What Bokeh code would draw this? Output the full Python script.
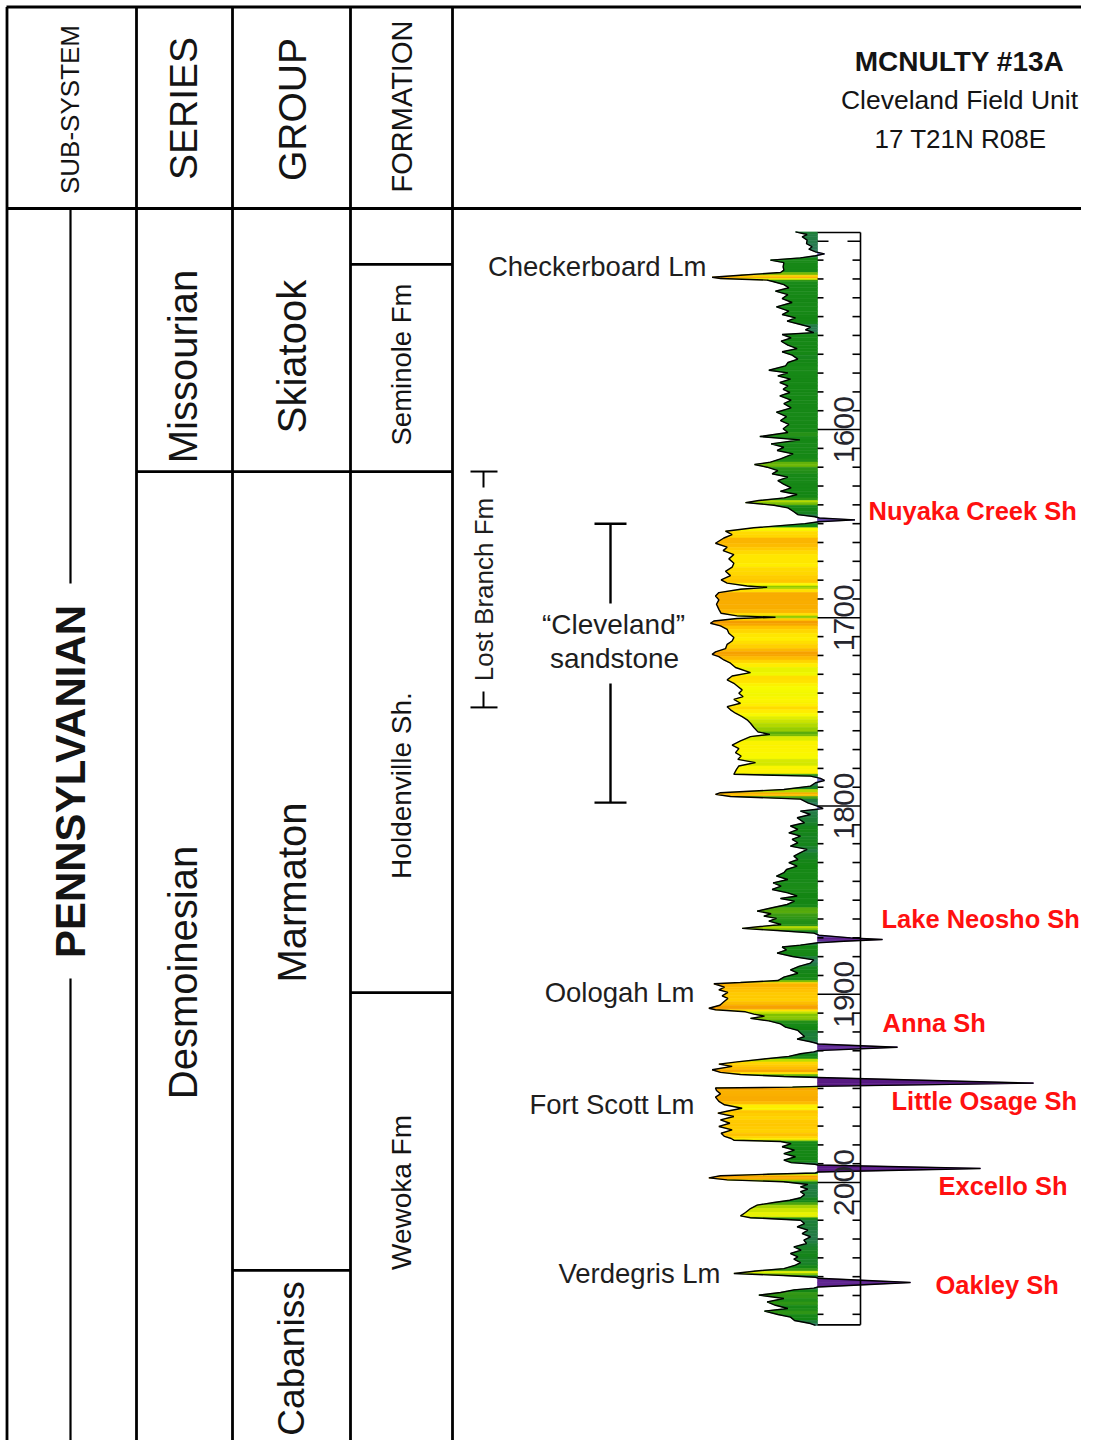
import math
from bokeh.plotting import figure
from bokeh.models import Range1d
from bokeh.embed import file_html
from bokeh.resources import INLINE
from bokeh.core.properties import value

# ---------------- DATA ----------------
well_title = ["MCNULTY #13A", "Cleveland Field Unit", "17 T21N R08E"]
header_labels = ["SUB-SYSTEM", "SERIES", "GROUP", "FORMATION"]
subsystem_name = "PENNSYLVANIAN"

series_names = ["Missourian", "Desmoinesian"]
series_tops = [1482.6, 1622.3]
group_names = ["Skiatook", "Marmaton", "Cabaniss"]
group_tops = [1482.6, 1622.3, 2046.7]
formation_names = ["", "Seminole Fm", "Holdenville Sh.", "Wewoka Fm"]
formation_tops = [1482.6, 1512.3, 1622.3, 1899.1]

depth_labels = [1600, 1700, 1800, 1900, 2000]
depth_tick_step = 10
scale_top, scale_base = 1495.3, 2075.6

lm_names = ["Checkerboard Lm", "Oologah Lm", "Fort Scott Lm", "Verdegris Lm"]
sh_names = ["Nuyaka Creek Sh", "Lake Neosho Sh", "Anna Sh", "Little Osage Sh", "Excello Sh", "Oakley Sh"]
cleveland_top, cleveland_base = 1650.0, 1798.2
lost_branch_top, lost_branch_base = 1622.3, 1747.6

# gamma-ray style log (depth ft, value)
gr_depth = [
    1495.0, 1496.4, 1497.6, 1499.4, 1501.2, 1502.9, 1504.2, 1505.6, 1506.7, 1507.7,
    1508.8, 1510.0, 1511.3, 1513.6, 1515.3, 1516.6, 1518.0, 1519.1, 1519.8, 1520.6,
    1521.5, 1523.0, 1524.7, 1526.5, 1528.3, 1530.4, 1532.5, 1534.8, 1537.1, 1538.9,
    1540.7, 1542.4, 1544.2, 1545.6, 1547.0, 1548.5, 1549.5, 1551.3, 1553.1, 1555.2,
    1557.0, 1558.7, 1560.5, 1562.6, 1564.4, 1566.2, 1568.5, 1569.9, 1571.5, 1573.2,
    1575.0, 1576.8, 1578.6, 1580.3, 1582.1, 1584.4, 1586.2, 1588.5,
    1590.8, 1593.1, 1595.2, 1597.3, 1599.6, 1601.6, 1603.7, 1605.5, 1607.6, 1609.4,
    1611.1, 1612.9, 1615.6, 1617.3, 1618.6, 1620.0, 1621.8, 1623.5, 1625.3, 1627.1,
    1628.9, 1631.0, 1632.8, 1634.5, 1636.3, 1637.7, 1638.8, 1640.2, 1641.6, 1643.4,
    1645.2, 1646.3, 1647.0, 1648.0, 1649.0, 1650.0, 1652.2, 1654.0, 1655.8, 1657.6,
    1660.4, 1662.5, 1664.3, 1666.4, 1668.7, 1671.0, 1673.1, 1675.3, 1677.6, 1679.9,
    1681.6, 1683.1, 1683.8, 1684.8,
    1686.6, 1688.4, 1690.5, 1692.8, 1695.5, 1697.6, 1699.0, 1699.7, 1700.4, 1701.7,
    1702.9, 1704.3, 1706.1, 1708.2, 1710.5, 1712.3, 1714.1, 1716.4, 1718.1, 1719.4,
    1720.6, 1722.4, 1724.1, 1726.4, 1729.1, 1730.9, 1733.0, 1734.8, 1736.5, 1738.3,
    1740.1, 1741.9, 1743.3, 1745.4, 1747.2, 1748.9, 1750.7, 1752.5, 1754.2, 1756.0,
    1758.3, 1760.6, 1761.9, 1763.1, 1765.4, 1767.7, 1769.5, 1771.6, 1773.4, 1775.2,
    1776.9, 1778.7, 1780.5, 1783.1,
    1784.1, 1785.3, 1786.4, 1787.6, 1789.4, 1791.2, 1792.9, 1793.8, 1794.9, 1796.3,
    1798.3, 1800.0, 1801.3, 1802.7, 1804.5, 1806.2, 1808.9, 1810.6, 1812.4, 1814.2,
    1816.0, 1817.7, 1819.5, 1821.3, 1823.0, 1824.8, 1826.6, 1828.4, 1830.1, 1831.9,
    1833.7, 1835.4, 1837.2, 1839.0, 1840.8, 1842.5, 1844.3, 1846.1, 1847.8, 1849.1,
    1850.5, 1852.3, 1854.0, 1855.8, 1857.2, 1858.5, 1859.7, 1861.1, 1862.9, 1864.0,
    1865.0, 1866.1, 1867.5, 1868.6, 1870.0, 1870.9, 1871.8, 1872.6, 1873.9, 1874.9,
    1876.4, 1878.1,
    1879.9, 1881.7, 1883.4, 1885.2, 1887.0, 1888.8, 1890.9, 1892.7, 1893.7, 1894.4,
    1896.2, 1897.6, 1899.0, 1900.8, 1902.2, 1904.0, 1905.8, 1907.4, 1908.2, 1909.3,
    1910.5, 1911.6, 1912.8, 1914.1, 1915.7, 1917.4, 1919.2, 1920.6, 1922.4, 1923.8,
    1925.2, 1926.0, 1926.4, 1928.1, 1929.9, 1930.6, 1931.6, 1933.0, 1934.4, 1935.9,
    1937.1, 1938.3, 1940.1, 1941.5, 1942.6, 1943.7, 1944.2, 1947.2, 1948.9, 1949.3,
    1949.8, 1951.1, 1952.9, 1954.6, 1956.9, 1958.7, 1960.5, 1961.7, 1963.1, 1964.9,
    1966.7, 1968.5, 1970.2, 1972.0, 1973.8, 1975.5,
    1976.6, 1977.5, 1978.2, 1979.3, 1981.0, 1982.8, 1984.6, 1986.3, 1988.1, 1989.4,
    1990.3, 1990.7, 1992.5, 1994.4, 1994.9, 1995.6, 1996.4, 1997.5, 1998.6, 1999.6,
    2001.0, 2002.3, 2003.5, 2004.9, 2006.4, 2008.1, 2009.4, 2010.6, 2012.0, 2013.8,
    2015.9, 2017.7, 2018.7, 2020.0, 2021.8, 2023.5, 2025.3, 2027.1, 2028.8, 2030.6,
    2032.4, 2034.2, 2035.9, 2037.7, 2039.5, 2040.7, 2042.5, 2043.9, 2045.7, 2047.1,
    2048.3, 2049.4, 2050.3, 2050.8, 2053.1, 2055.5, 2056.1, 2057.0, 2058.4, 2059.8,
    2061.6, 2063.4, 2065.2, 2066.9, 2068.3, 2070.1, 2071.5, 2073.3, 2074.9, 2075.9,
]
gr_value = [
    102.4, 111.7, 107.7, 111.7, 111.2, 115.7, 113.1, 118.4, 125.6, 118.4,
    106.4, 82.4, 93.1, 92.5, 93.1, 90.4, 58.4, 35.7, 42.4, 79.7,
    85.1, 93.1, 97.1, 86.4, 96.3, 91.7, 99.7, 87.2, 97.1, 91.7,
    102.4, 95.7, 106.4, 114.4, 110.4, 117.1, 91.7, 98.9, 90.9, 96.3,
    103.7, 91.7, 99.7, 104.3, 96.3, 94.4, 81.1, 96.3, 88.3, 98.4,
    89.9, 96.3, 92.5, 97.9, 89.9, 98.9, 93.1, 98.9,
    87.2, 95.2, 90.4, 97.1, 92.5, 96.3, 73.9, 105.9, 82.9, 93.1,
    87.7, 100.5, 90.4, 82.4, 69.6, 79.7, 88.3, 83.7, 96.3, 88.3,
    92.5, 98.9, 90.4, 103.7, 93.6, 73.1, 62.4, 85.1, 96.3, 100.5,
    104.3, 118.0, 121.5, 150.0, 121.0, 110.0, 69.1, 46.4, 51.7, 45.1,
    38.4, 47.7, 44.5, 53.1, 49.1, 53.1, 51.7, 46.4, 50.4, 42.9,
    47.7, 63.7, 79.7, 58.4,
    41.1, 38.4, 41.1, 39.2, 41.1, 42.9, 55.7, 86.4, 55.7, 37.1,
    34.4, 42.4, 47.7, 49.1, 53.1, 51.7, 47.7, 46.4, 38.4, 35.7,
    41.1, 45.1, 50.4, 54.4, 66.4, 51.7, 47.7, 53.1, 56.3, 59.7,
    57.1, 60.5, 53.1, 58.4, 47.7, 50.4, 54.4, 59.7, 63.7, 66.4,
    69.1, 72.3, 81.9, 66.4, 58.4, 51.7, 57.1, 54.4, 58.9, 56.3,
    70.4, 57.1, 55.2, 53.1,
    114.4, 122.4, 125.6, 118.4, 114.4, 93.1, 42.4, 38.4, 50.4, 106.4,
    112.3, 119.7, 124.5, 106.4, 114.4, 103.7, 109.6, 98.4, 104.3, 97.1,
    106.4, 99.7, 104.3, 98.4, 111.7, 106.4, 101.1, 104.3, 97.1, 103.7,
    95.2, 93.1, 87.2, 96.3, 84.5, 90.9, 83.7, 96.3, 103.7, 90.4,
    101.6, 95.7, 83.7, 71.7, 82.9, 77.1, 87.2, 81.1, 90.9, 74.4,
    59.7, 87.7, 117.1, 121.1, 146.4, 172.0, 141.1, 120.3, 106.4, 91.7,
    95.2, 87.7,
    100.0, 117.1, 114.4, 105.1, 98.4, 104.3, 93.1, 88.3, 58.4, 37.1,
    45.6, 41.1, 48.3, 43.7, 48.3, 45.1, 41.9, 33.1, 38.4, 62.4,
    69.1, 77.6, 66.4, 81.1, 90.4, 94.4, 104.3, 106.4, 109.6, 103.7,
    114.4, 119.0, 120.5, 184.0, 120.3, 117.0, 106.4, 97.1, 77.1, 55.7,
    41.1, 51.7, 35.7, 42.4, 58.4, 93.1, 120.3, 292.8, 120.3, 100.0,
    38.4, 39.2, 42.4, 38.4, 41.1, 45.6, 59.7, 50.4, 40.3, 53.1,
    42.4, 49.9, 41.1, 51.7, 42.9, 45.6,
    50.9, 53.1, 90.4, 98.9, 91.7, 101.6, 93.1, 102.4, 93.1, 98.9,
    118.0, 120.3, 250.4, 120.3, 118.4, 79.7, 42.4, 33.1, 47.7, 93.1,
    112.3, 106.4, 112.3, 106.4, 109.6, 106.4, 97.9, 85.1, 71.7, 66.4,
    62.4, 58.4, 66.4, 106.4, 109.6, 103.7, 112.3, 107.7, 114.4, 109.1,
    111.2, 101.1, 106.9, 98.4, 104.3, 101.1, 106.4, 102.4, 93.1, 69.1,
    53.1, 93.1, 118.4, 120.3, 194.4, 120.3, 117.1, 101.1, 90.4, 73.1,
    93.1, 79.7, 86.4, 96.3, 77.6, 88.3, 98.4, 101.6, 114.4, 118.4,
]

# ---------------- LAYOUT / STYLE ----------------
W, H = 1081, 1440
PX0 = 0
Y_1500, PX_FT = 240.8, 1.8825
BASE_GR, GR_PX, BASE_X = 120.0, 1.25, 817.0
FONT = value("Liberation Sans")


def D(px):
    return 1500.0 + (px - Y_1500) / PX_FT


def G(px):
    return BASE_GR + (px - BASE_X) / GR_PX


p = figure(width=W, height=H, output_backend="svg", toolbar_location=None,
           x_range=Range1d(PX0, PX0 + W), y_range=Range1d(D(PX0 + H), D(PX0)),
           x_axis_type=None, y_axis_type=None, min_border=0)
p.extra_x_ranges = {"gr": Range1d(G(PX0), G(PX0 + W))}
p.outline_line_color = None
p.background_fill_color = "white"
p.border_fill_color = "white"

# ---- colour map for the log fill ----
stops = [(30, "#f08c00"), (38, "#f7a400"), (45, "#ffc400"), (52, "#ffec00"),
         (58, "#f8fa00"), (65, "#cbe400"), (72, "#8cc800"), (80, "#3c9c14"),
         (88, "#198a19"), (100, "#148614"), (108, "#1f7e3c"), (116, "#2e7a5c"),
         (120, "#3b7d6a"), (120.01, "#7b7bd2"), (135, "#6a4ab2"), (160, "#5e1f8c"),
         (320, "#4a0e6e")]


def hx(c):
    return tuple(int(c[i:i + 2], 16) for i in (1, 3, 5))


def cmap(g):
    if g <= stops[0][0]:
        return stops[0][1]
    for (g0, c0), (g1, c1) in zip(stops[:-1], stops[1:]):
        if g <= g1:
            t = (g - g0) / (g1 - g0)
            a, b = hx(c0), hx(c1)
            return "#%02x%02x%02x" % tuple(int(round(a[k] + t * (b[k] - a[k]))) for k in range(3))
    return stops[-1][1]


xs, ys, cols = [], [], []
for i in range(len(gr_depth) - 1):
    d0, d1 = gr_depth[i], gr_depth[i + 1]
    g0, g1 = gr_value[i], gr_value[i + 1]
    if (g0 - BASE_GR) * (g1 - BASE_GR) < 0:
        dm = d0 + (BASE_GR - g0) / (g1 - g0) * (d1 - d0)
        parts = [(d0, g0, dm, BASE_GR), (dm, BASE_GR, d1, g1)]
    else:
        parts = [(d0, g0, d1, g1)]
    for a, ga, b, gb in parts:
        xs.append([BASE_GR, ga, gb, BASE_GR])
        ys.append([a, a, b, b])
        cols.append(cmap((ga + gb) / 2.0))
p.patches(xs, ys, fill_color=cols, line_color=cols, line_width=0.6, x_range_name="gr")
p.line(gr_value, gr_depth, line_color="black", line_width=1.4, x_range_name="gr")

# ---- depth scale ----
SL, SR = 817, 860
p.text(x=[843] * len(depth_labels), y=depth_labels, text=[str(v) for v in depth_labels],
       angle=math.pi / 2, text_align="center", text_baseline="middle",
       text_font=FONT, text_font_size="30px", text_color="#26262e")
tick_d = list(range(1500, 2071, depth_tick_step))
minor = [t for t in tick_d if t % 100 != 0]
p.segment(x0=[SL] * len(minor), y0=minor, x1=[SL + 6] * len(minor), y1=minor, line_color="black", line_width=1.6)
p.segment(x0=[SR - 8] * len(minor), y0=minor, x1=[SR] * len(minor), y1=minor, line_color="black", line_width=1.6)
major = [t for t in tick_d if t % 100 == 0 and t in depth_labels]
p.segment(x0=[SL] * len(major), y0=major, x1=[SR] * len(major), y1=major, line_color="black", line_width=1.6)
p.segment(x0=[SL, SR - 13], y0=[1500, 1500], x1=[SL + 11, SR], y1=[1500, 1500], line_color="black", line_width=1.6)
p.segment(x0=[SR, SL, SL], y0=[scale_top, scale_top, scale_base], x1=[SR, SR, SR],
          y1=[scale_base, scale_top, scale_base], line_color="black", line_width=1.6)

# ---- table frame ----
LW = 2.8
top_px, head_px, bot_px = 6.5, 208, 1460
vx = [136, 232, 350, 452]
p.segment(x0=[6, 6], y0=[D(top_px), D(head_px)], x1=[1100, 1100], y1=[D(top_px), D(head_px)],
          line_color="black", line_width=LW)
p.segment(x0=[6.5] + vx, y0=[D(top_px)] * 5, x1=[6.5] + vx, y1=[D(bot_px)] * 5, line_color="black", line_width=LW)
p.segment(x0=[136], y0=[series_tops[1]], x1=[232], y1=[series_tops[1]], line_color="black", line_width=LW)
p.segment(x0=[232] * 2, y0=group_tops[1:], x1=[350] * 2, y1=group_tops[1:], line_color="black", line_width=LW)
p.segment(x0=[350] * 3, y0=formation_tops[1:], x1=[452] * 3, y1=formation_tops[1:], line_color="black", line_width=LW)
p.segment(x0=[70, 70], y0=[D(head_px), D(978)], x1=[70, 70], y1=[D(583), D(bot_px)], line_color="black", line_width=2.2)


def txt(x, y, s, size, angle=0.0, bold=False, color="#141414", align="center"):
    p.text(x=[x], y=[y], text=[s], angle=angle, text_align=align, text_baseline="middle",
           text_font=FONT, text_font_size=f"{size}px", text_font_style="bold" if bold else "normal",
           text_color=color)


R = math.pi / 2
# header
txt(69, D(109), header_labels[0], 26, R)
txt(183, D(108), header_labels[1], 39, R)
txt(292, D(109), header_labels[2], 39, R)
txt(401, D(106), header_labels[3], 29, R)
txt(959, D(61), well_title[0], 28, bold=True)
txt(959, D(99), well_title[1], 26.5)
txt(960, D(138), well_title[2], 26)

# column labels
txt(70, D(781), subsystem_name, 42, R, bold=True)
txt(182, D(366), series_names[0], 40, R)
txt(182, D(972), series_names[1], 40, R)
txt(291, D(356), group_names[0], 40, R)
txt(291, D(892), group_names[1], 40, R)
txt(291, D(1358), group_names[2], 37, R)
txt(401, D(364), formation_names[1], 27.5, R)
txt(401, D(785), formation_names[2], 28, R)
txt(401, D(1192), formation_names[3], 28, R)

# limestone labels (right aligned)
for name, xr, yp in zip(lm_names, [706, 694, 694, 720], [266, 992, 1104, 1273]):
    txt(xr, D(yp), name, 27.5, align="right", color="#1e1e1e")

# shale labels (red bold)
for name, xl, yp in zip(sh_names, [868, 881, 882, 891, 938, 935], [510, 918, 1022, 1100, 1185, 1284]):
    txt(xl, D(yp), name, 25.5, bold=True, color="#ff1010", align="left")

# "Cleveland" sandstone bracket
txt(613, D(624), "\u201cCleveland\u201d", 28, color="#1e1e1e")
txt(614, D(658), "sandstone", 28, color="#1e1e1e")
p.segment(x0=[610, 610, 594, 594], y0=[cleveland_top, D(683), cleveland_top, cleveland_base],
          x1=[610, 610, 626, 626], y1=[D(603), cleveland_base, cleveland_top, cleveland_base],
          line_color="black", line_width=2.4)

# Lost Branch Fm bracket
txt(483, D(589), "Lost Branch Fm", 26, R, color="#1e1e1e")
p.segment(x0=[470, 470, 483, 483], y0=[lost_branch_top, lost_branch_base, lost_branch_top, D(691)],
          x1=[497, 497, 483, 483], y1=[lost_branch_top, lost_branch_base, D(487), lost_branch_base],
          line_color="black", line_width=2.0)

open("out.html", "w").write(file_html(p, INLINE, title="McNulty #13A"))
